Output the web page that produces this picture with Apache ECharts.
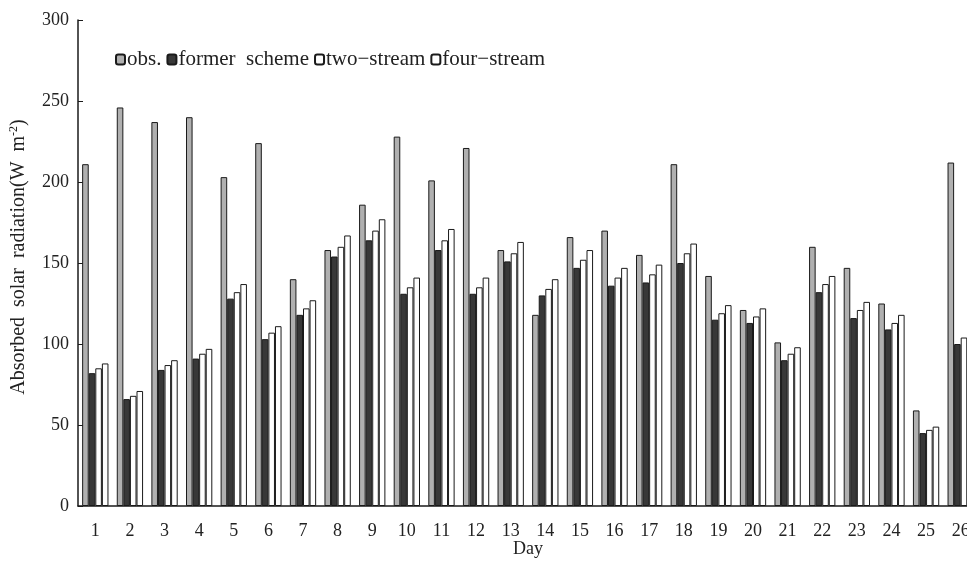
<!DOCTYPE html>
<html>
<head>
<meta charset="utf-8">
<script src="https://cdn.jsdelivr.net/npm/echarts@6/dist/echarts.min.js"></script>
<style>
html,body{margin:0;padding:0;background:#fff;}
#c{width:967px;height:561px;}
</style>
</head>
<body>
<div id="c"></div>
<script>
const days = ['1','2','3','4','5','6','7','8','9','10','11','12','13','14','15','16','17','18','19','20','21','22','23','24','25','26'];
const obs =          [211, 246, 237, 240, 203, 224, 140, 158, 186, 228, 201, 221, 158, 118, 166, 170, 155, 211, 142, 121, 101, 160, 147, 125, 59, 212];
const formerScheme = [ 82,  66,  84,  91, 128, 103, 118, 154, 164, 131, 158, 131, 151, 130, 147, 136, 138, 150, 115, 113,  90, 132, 116, 109, 45, 100];
const twoStream =    [ 85,  68,  87,  94, 132, 107, 122, 160, 170, 135, 164, 135, 156, 134, 152, 141, 143, 156, 119, 117,  94, 137, 121, 113, 47, 104];
const fourStream =   [ 88,  71,  90,  97, 137, 111, 127, 167, 177, 141, 171, 141, 163, 140, 158, 147, 149, 162, 124, 122,  98, 142, 126, 118, 49, 109];
const yTicks = [0, 50, 100, 150, 200, 250, 300];

const font = '"Liberation Serif", "DejaVu Serif", serif';
const txt = '#222';
function mk(name, data, fill) {
  return {
    name: name, type: 'bar', data: data, barGap: '0%', barCategoryGap: '24%',
    itemStyle: {color: fill, borderColor: '#1a1a1a', borderWidth: 1},
    emphasis: {disabled: true}
  };
}
const chart = echarts.init(document.getElementById('c'), null, {renderer: 'canvas'});
chart.setOption({
  animation: false,
  backgroundColor: '#fff',
  legend: {
    left: 110, top: 44, itemWidth: 9, itemHeight: 10, itemGap: 5,
    textStyle: {fontFamily: font, fontSize: 21, color: txt, padding: [0, 0, 0, -3]},
    data: ['obs.', 'former  scheme', 'two−stream', 'four−stream']
  },
  grid: {left: 78, right: -11, top: 20, bottom: 55, containLabel: false, outerBoundsMode: 'none'},
  xAxis: {
    type: 'category', data: days,
    name: 'Day', nameLocation: 'middle', nameGap: 34, nameMoveOverlap: false,
    nameTextStyle: {fontFamily: font, fontSize: 18, color: txt},
    axisLine: {lineStyle: {color: '#1a1a1a', width: 1.5}},
    axisTick: {inside: true, length: 4, lineStyle: {color: '#1a1a1a'}},
    axisLabel: {fontFamily: font, fontSize: 18, color: txt, margin: 16}
  },
  yAxis: {
    type: 'value', min: yTicks[0], max: yTicks[yTicks.length - 1], interval: 50,
    name: 'Absorbed  solar  radiation(W  m{sup|-2})',
    nameLocation: 'middle', nameGap: 48,
    nameTextStyle: {fontFamily: font, fontSize: 20, color: txt, padding: [0, 0, 0, 12],
      rich: {sup: {fontFamily: font, fontSize: 12, color: txt, verticalAlign: 'top', padding: [0, 0, 10, 0]}}},
    axisLine: {show: true, lineStyle: {color: '#1a1a1a', width: 1.5}},
    axisTick: {show: true, inside: true, length: 5, lineStyle: {color: '#1a1a1a'}},
    axisLabel: {fontFamily: font, fontSize: 18, color: txt, margin: 9},
    splitLine: {show: false}
  },
  series: [
    mk('obs.', obs, '#b0b0b0'),
    mk('former  scheme', formerScheme, '#383838'),
    mk('two−stream', twoStream, '#ffffff'),
    mk('four−stream', fourStream, '#ffffff')
  ]
});
</script>
</body>
</html>
